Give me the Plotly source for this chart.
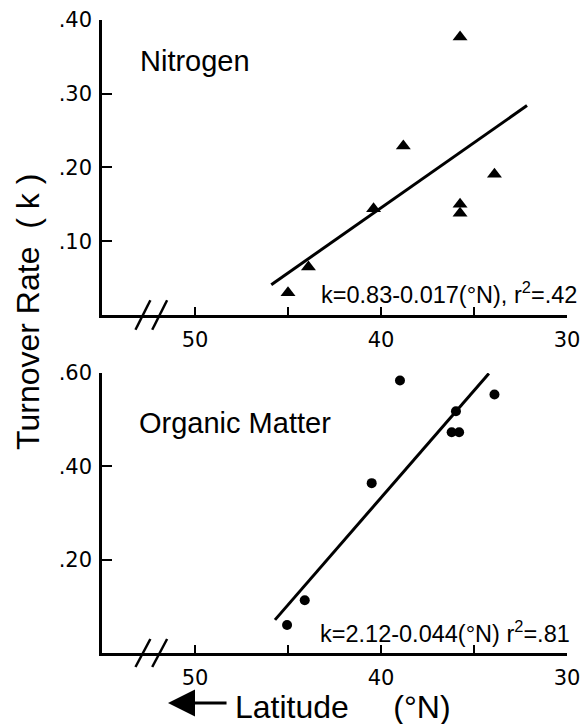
import plotly.graph_objects as go
from plotly.subplots import make_subplots

# ---- data ----
n_lat = [45.0, 43.9, 40.4, 38.8, 35.75, 35.75, 35.75, 33.9]
n_k = [0.030, 0.065, 0.144, 0.229, 0.377, 0.150, 0.138, 0.191]
n_fit_lat = [45.9, 32.15]
n_fit_k = [0.041, 0.284]

om_lat = [45.05, 44.1, 40.5, 38.98, 35.97, 36.2, 35.8, 33.9]
om_k = [0.060, 0.113, 0.364, 0.584, 0.518, 0.473, 0.473, 0.554]
om_fit_lat = [45.7, 34.2]
om_fit_k = [0.071, 0.599]

x_tickvals = [50, 45, 40, 35, 30]
x_ticktext = ["50", "", "40", "", "30"]
n_tickvals = [0.10, 0.20, 0.30, 0.40]
n_ticktext = [".10", ".20", ".30", ".40"]
om_tickvals = [0.20, 0.40, 0.60]
om_ticktext = [".20", ".40", ".60"]
break_lat = [52.8, 51.9]

n_eq = "k=0.83-0.017(°N), r<sup>2</sup>=.42"
om_eq = "k=2.12-0.044(°N) r<sup>2</sup>=.81"
y_title = "Turnover Rate\u00a0\u00a0(\u00a0k\u00a0)"
x_title = "Latitude\u00a0\u00a0\u00a0\u00a0\u00a0(°N)"

# ---- figure ----
fig = make_subplots(rows=2, cols=1)

fig.add_trace(go.Scatter(x=n_lat, y=n_k, mode="markers",
                         marker=dict(symbol="triangle-up", size=13, color="black"),
                         showlegend=False), row=1, col=1)
fig.add_trace(go.Scatter(x=n_fit_lat, y=n_fit_k, mode="lines",
                         line=dict(color="black", width=3), showlegend=False), row=1, col=1)
fig.add_trace(go.Scatter(x=om_lat, y=om_k, mode="markers",
                         marker=dict(symbol="circle", size=10, color="black"),
                         showlegend=False), row=2, col=1)
fig.add_trace(go.Scatter(x=om_fit_lat, y=om_fit_k, mode="lines",
                         line=dict(color="black", width=3), showlegend=False), row=2, col=1)

tickfont = dict(family="DejaVu Sans", size=21, color="black")
common_x = dict(range=[55, 30], tickvals=x_tickvals, ticktext=x_ticktext,
                ticks="inside", ticklen=8, tickwidth=2, tickcolor="black",
                showline=True, linecolor="black", linewidth=2.5,
                showgrid=False, zeroline=False, tickfont=tickfont,
                ticklabelstandoff=4, automargin=False)
common_y = dict(ticks="inside", ticklen=10, tickwidth=2, tickcolor="black",
                showline=True, linecolor="black", linewidth=2.5,
                showgrid=False, zeroline=False, tickfont=tickfont,
                ticklabelstandoff=3, automargin=False)

fig.update_xaxes(**common_x)
fig.update_yaxes(**common_y)
fig.update_layout(
    xaxis=dict(domain=[0, 1]),
    xaxis2=dict(domain=[0, 1]),
    yaxis=dict(domain=[0.534, 1.0], range=[0, 0.40], tickvals=n_tickvals, ticktext=n_ticktext),
    yaxis2=dict(domain=[0.0, 0.4423], range=[0, 0.60], tickvals=om_tickvals, ticktext=om_ticktext),
)

# axis break marks
for xr, yr in (("x", "y domain"), ("x2", "y2 domain")):
    for bl in break_lat:
        fig.add_shape(type="line", xref=xr, yref=yr,
                      x0=bl + 0.4, x1=bl - 0.4, y0=-0.05, y1=0.05,
                      line=dict(color="black", width=2.5))

labfont = dict(family="Liberation Sans, Arial", size=29, color="black")
eqfont = dict(family="Liberation Sans, Arial", size=23.5, color="black")
titfont = dict(family="Liberation Sans, Arial", size=32, color="black")
xtitfont = dict(family="Liberation Sans, Arial", size=32, color="black")

annots = [
    dict(text="Nitrogen", xref="x domain", yref="y domain", x=0.077, y=0.86,
         xanchor="left", yanchor="middle", showarrow=False, font=labfont),
    dict(text="Organic Matter", xref="x2 domain", yref="y2 domain", x=0.075, y=0.82,
         xanchor="left", yanchor="middle", showarrow=False, font=labfont),
    dict(text=n_eq, xref="x domain", yref="y domain", x=1.025, y=0.075,
         xanchor="right", yanchor="middle", showarrow=False, font=eqfont),
    dict(text=om_eq, xref="x2 domain", yref="y2 domain", x=1.01, y=0.075,
         xanchor="right", yanchor="middle", showarrow=False, font=eqfont),
    dict(text=y_title, xref="paper", yref="paper", x=-0.159, y=0.539,
         xanchor="center", yanchor="middle", textangle=-90, showarrow=False, font=titfont),
    dict(text=x_title, xref="paper", yref="paper", x=0.282, y=-0.085,
         xanchor="left", yanchor="middle", showarrow=False, font=xtitfont),
    dict(text="", xref="paper", yref="paper", x=0.142, y=-0.079, ax=60, ay=0,
         showarrow=True, arrowhead=2, arrowsize=1.8, arrowwidth=3, arrowcolor="black"),
]
fig.update_layout(
    annotations=annots,
    width=581, height=724,
    margin=dict(l=102, r=14, t=20, b=71),
    plot_bgcolor="white", paper_bgcolor="white",
    showlegend=False,
)

# remove the page's default body margin so the figure fills the window exactly
fig.write_html("out.html",
               config={"displayModeBar": False},
               post_script="document.body.style.margin='0';document.body.style.overflow='hidden';")
